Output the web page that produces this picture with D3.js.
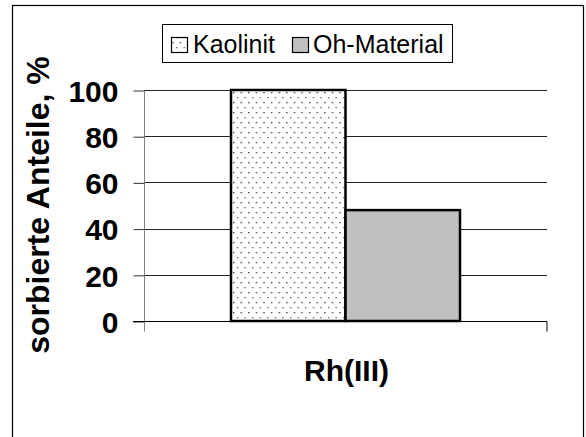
<!DOCTYPE html>
<html><head><meta charset="utf-8">
<script src="https://cdn.jsdelivr.net/npm/d3@7/dist/d3.min.js"></script>
<style>html,body{margin:0;padding:0;background:#fff;}svg{display:block;}</style>
</head><body>
<svg id="c" width="586" height="437"></svg>
<script>
const categories = ["Rh(III)"];
const seriesNames = ["Kaolinit", "Oh-Material"];
const kaolinit = [100];
const ohMaterial = [48];
const yTicks = [0, 20, 40, 60, 80, 100];
const yLabel = "sorbierte Anteile, %";

const svg = d3.select("#c");
const font = "'Liberation Sans', Arial, sans-serif";

const defs = svg.append("defs");
const pat = defs.append("pattern").attr("id", "dots").attr("patternUnits", "userSpaceOnUse")
  .attr("width", 7.6).attr("height", 10).attr("x", 231).attr("y", 90);
pat.append("rect").attr("width", 7.6).attr("height", 10).attr("fill", "#fff");
pat.append("rect").attr("x", 2).attr("y", 2).attr("width", 1.3).attr("height", 1.3).attr("fill", "#333");
pat.append("rect").attr("x", 5.8).attr("y", 7).attr("width", 1.3).attr("height", 1.3).attr("fill", "#555");

// outer frame
svg.append("rect").attr("x", 12.5).attr("y", 5.5).attr("width", 571).attr("height", 440)
  .attr("fill", "none").attr("stroke", "#000").attr("stroke-width", 1.2);

const plotL = 144, plotR = 547, plotT = 90, plotB = 321;
const y = d3.scaleLinear().domain([0, 100]).range([plotB, plotT]);
const x0 = d3.scaleBand().domain(categories).range([plotL, plotR]);
const groupW = 229;

// gridlines
svg.append("g").selectAll("line").data(yTicks.filter(d => d > 0)).join("line")
  .attr("x1", plotL).attr("x2", plotR)
  .attr("y1", d => Math.round(y(d)) + 0.5).attr("y2", d => Math.round(y(d)) + 0.5)
  .attr("stroke", "#222").attr("stroke-width", 1);

// y axis
const yAxis = d3.axisLeft(y).tickValues(yTicks).tickSize(11).tickPadding(15);
const ga = svg.append("g").attr("transform", `translate(${plotL + 0.5},0.5)`).call(yAxis);
ga.select(".domain").attr("stroke", "#808080").attr("d", `M0,${plotT}V${plotB + 10}`);
ga.selectAll(".tick line").attr("stroke", "#333");
ga.selectAll(".tick text").attr("font-family", font).attr("font-weight", "bold")
  .attr("font-size", 30).attr("fill", "#000").attr("dy", "0.36em");

// x axis baseline + category tick
const xAxis = d3.axisBottom(x0).tickSize(0).tickFormat("");
const gx = svg.append("g").attr("transform", `translate(0,${plotB + 0.5})`).call(xAxis);
gx.select(".domain").attr("stroke", "#000").attr("d", `M${plotL - 11},0H${plotR}V10`);

// bars
categories.forEach((c, i) => {
  const cx = x0(c) + x0.bandwidth() / 2;
  const x1 = d3.scaleBand().domain(seriesNames).range([cx - groupW / 2, cx + groupW / 2]);
  const vals = [kaolinit[i], ohMaterial[i]];
  const fills = ["url(#dots)", "#c0c0c0"];
  svg.append("g").selectAll("rect").data(seriesNames).join("rect")
    .attr("x", s => x1(s)).attr("width", x1.bandwidth())
    .attr("y", (s, j) => y(vals[j])).attr("height", (s, j) => y(0) - y(vals[j]))
    .attr("fill", (s, j) => fills[j]).attr("stroke", "#000").attr("stroke-width", 2.5);
  svg.append("text").attr("x", cx + 1).attr("y", 381).attr("text-anchor", "middle")
    .attr("font-family", font).attr("font-weight", "bold").attr("font-size", 30).text(c);
});

// y label
svg.append("text").attr("transform", "translate(49,205) rotate(-90)").attr("text-anchor", "middle")
  .attr("font-family", font).attr("font-weight", "bold").attr("font-size", 32).text(yLabel);

// legend
const lg = svg.append("g");
lg.append("rect").attr("x", 162.5).attr("y", 24.5).attr("width", 290).attr("height", 38)
  .attr("fill", "#fff").attr("stroke", "#000").attr("stroke-width", 1);
const legItems = [{ name: seriesNames[0], fill: "url(#dots)", sx: 171, tx: 193 },
                  { name: seriesNames[1], fill: "#c0c0c0", sx: 292, tx: 313 }];
legItems.forEach(d => {
  lg.append("rect").attr("x", d.sx + 0.5).attr("y", 37.5).attr("width", 16).attr("height", 15)
    .attr("fill", d.fill).attr("stroke", "#000").attr("stroke-width", 1.2);
  lg.append("text").attr("x", d.tx).attr("y", 53).attr("font-family", font)
    .attr("font-size", 25).attr("fill", "#000").text(d.name);
});
</script>
</body></html>
